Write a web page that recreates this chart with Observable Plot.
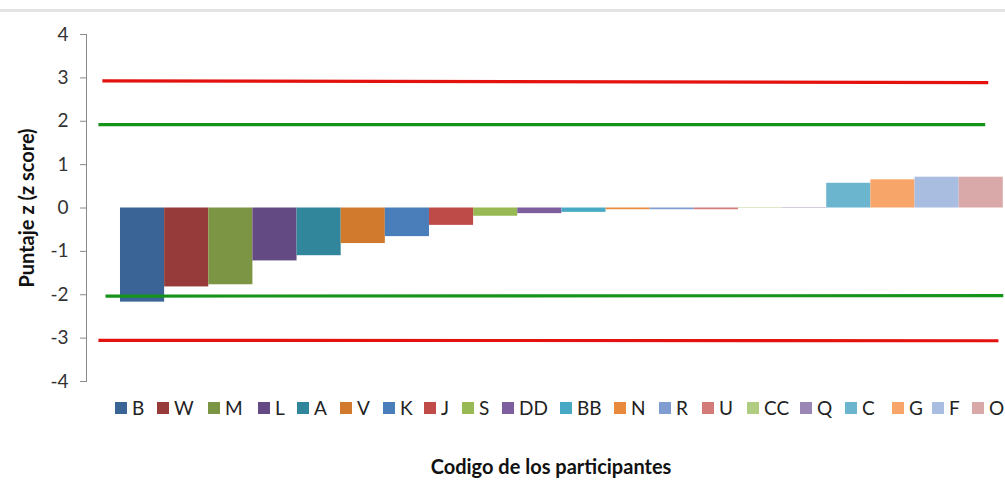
<!DOCTYPE html>
<html>
<head>
<meta charset="utf-8">
<script src="https://cdn.jsdelivr.net/npm/d3@7"></script>
<script src="https://cdn.jsdelivr.net/npm/@observablehq/plot@0.6"></script>
<style>
  html, body { margin: 0; padding: 0; background: #fff; }
  body { width: 1005px; height: 482px; position: relative; overflow: hidden; font-family: Lato, "Open Sans", sans-serif; }
  #topline { position: absolute; left: 0; top: 9px; width: 1005px; height: 3px; background: #e3e3e3; }
  #chart { position: absolute; left: 0; top: 0; }
  #legend { position: absolute; left: 0; top: 397px; height: 22px; width: 1005px; }
  .item { position: absolute; top: 0; display: flex; align-items: center; font-size: 19px; color: #222; line-height: 22px; }
  .sw { width: 12px; height: 12px; margin-right: 5px; }
  #xtitle { position: absolute; left: 0; width: 1102px; top: 454px; text-align: center; font-weight: bold; font-size: 20px; color: #111; }
</style>
</head>
<body>
<div id="topline"></div>
<div id="chart"></div>
<div id="legend"></div>
<div id="xtitle">Codigo de los participantes</div>
<script>
// Participants (in plotted order) and their z scores
const participants = ["B","W","M","L","A","V","K","J","S","DD","BB","N","R","U","CC","Q","C","G","F","O"];
const zScores = [-2.17,-1.82,-1.77,-1.22,-1.10,-0.82,-0.66,-0.40,-0.19,-0.13,-0.10,-0.04,-0.04,-0.04,-0.01,0.01,0.57,0.65,0.71,0.71];
const barColors = ["#3b6496","#973b3a","#7c9545","#634a82","#31869c","#d17a2e","#4a7ebb","#be4b48","#98b954","#7d5fa0","#47a9c4","#e88a3c","#7f9dd0","#d27b79","#b0cc80","#9b87b6","#6cb5cf","#f8a56a","#a9bde0","#d8a9a8"];
const yTicks = [-4,-3,-2,-1,0,1,2,3,4];
// Reference limit lines (start/end positions in participant-index units)
const limitLines = [
  {name: "sup3", color: "#e3120f", pts: [[-0.41, 2.93], [19.66, 2.89]]},
  {name: "sup2", color: "#16931a", pts: [[-0.50, 1.92], [19.59, 1.92]]},
  {name: "inf2", color: "#16931a", pts: [[-0.34, -2.03], [20.0, -2.02]]},
  {name: "inf3", color: "#e3120f", pts: [[-0.50, -3.05], [19.89, -3.06]]}
];

const bars = participants.map((p, i) => ({p, i, z: zScores[i]}));
const linePts = limitLines.flatMap(l => l.pts.map(([x, y]) => ({name: l.name, color: l.color, x, y})));

const chart = Plot.plot({
  width: 1005,
  height: 392,
  marginLeft: 86,
  marginRight: 0,
  marginTop: 34,
  marginBottom: 11,
  style: {fontFamily: "Lato, 'Open Sans', sans-serif", background: "transparent"},
  x: {domain: [-0.77, 20.05], axis: null},
  y: {domain: [-4, 4]},
  color: {type: "ordinal", domain: participants, range: barColors},
  marks: [
    Plot.frame({anchor: "left", stroke: "#8a8a8a"}),
    Plot.axisY({ticks: yTicks, tickSize: 6, tickPadding: 12, fontSize: 19, stroke: "#8a8a8a", color: "#333", label: null, tickFormat: d => String(d)}),
    Plot.rect(bars, {x1: "i", x2: d => d.i + 1, y1: 0, y2: "z", fill: "p", inset: 0}),
    Plot.line(linePts, {x: "x", y: "y", z: "name", stroke: "color", strokeWidth: 3.2, strokeLinecap: "butt"}),
    Plot.text(["Puntaje z (z score)"], {frameAnchor: "left", textAnchor: "middle", dx: -59, rotate: -90, fontSize: 20, fontWeight: "bold", fill: "#111"})
  ]
});
document.getElementById("chart").appendChild(chart);

// Legend
const legendX = [115,157,208,258,297,340,383,424,462,502,560,614,659,702,747,800,845,892,932,972];
const legend = document.getElementById("legend");
participants.forEach((p, i) => {
  const item = document.createElement("div");
  item.className = "item";
  item.style.left = legendX[i] + "px";
  const sw = document.createElement("div");
  sw.className = "sw";
  sw.style.background = barColors[i];
  const t = document.createElement("span");
  t.textContent = p;
  item.appendChild(sw);
  item.appendChild(t);
  legend.appendChild(item);
});
</script>
</body>
</html>
